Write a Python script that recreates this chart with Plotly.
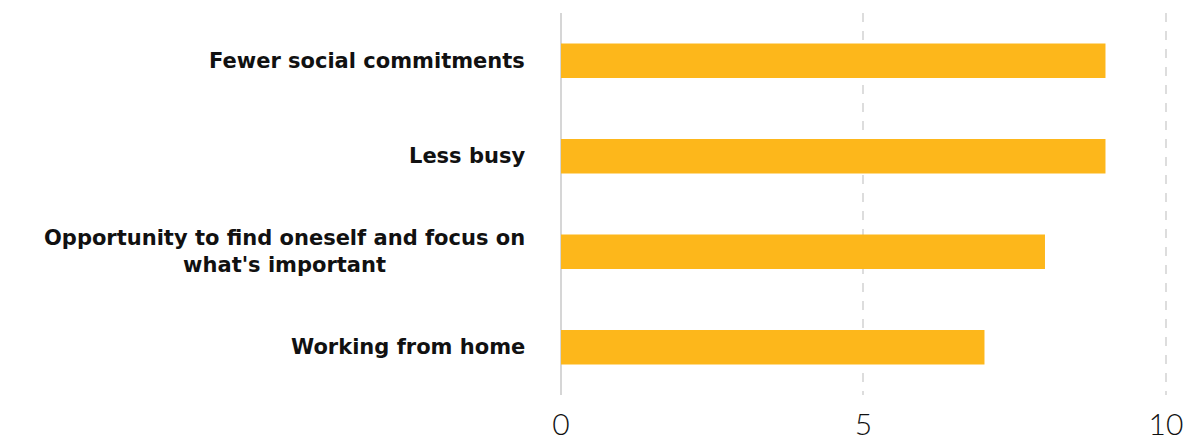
import plotly.graph_objects as go

categories = [
    "Fewer social commitments",
    "Less busy",
    "Opportunity to find oneself and focus on<br>what's important",
    "Working from home",
]
values = [9, 9, 8, 7]
x_ticks = [0, 5, 10]

fig = go.Figure()
fig.add_trace(go.Bar(
    y=categories, x=values, orientation="h",
    marker=dict(color="#FDB71B", line=dict(width=0)),
    width=0.36,
))

for c in categories:
    fig.add_annotation(
        x=0, xref="paper", y=c, yref="y",
        text=c, showarrow=False, xanchor="right", yanchor="middle",
        align="center", xshift=-34,
        font=dict(family="DejaVu Sans", size=21, color="#111111", weight="bold"),
    )

fig.update_layout(
    width=1187, height=447,
    margin=dict(l=561, r=18, t=13, b=52),
    paper_bgcolor="white", plot_bgcolor="white",
    showlegend=False,
    bargap=0.64,
)
fig.update_xaxes(
    range=[0, 10.05], tickvals=x_ticks, ticktext=[str(t) for t in x_ticks],
    showgrid=True, gridcolor="#dddddd", griddash="dash", gridwidth=2,
    zeroline=True, zerolinecolor="#d6d6d6", zerolinewidth=2,
    showline=False, ticks="", automargin=False,
    tickfont=dict(family="Lato", size=30, color="#111111", weight=300),
    ticklabelstandoff=9,
)
fig.update_yaxes(
    categoryorder="array", categoryarray=categories[::-1],
    showticklabels=False, showgrid=False, zeroline=False, showline=False,
    automargin=False,
)

fig.write_html("out.html")
